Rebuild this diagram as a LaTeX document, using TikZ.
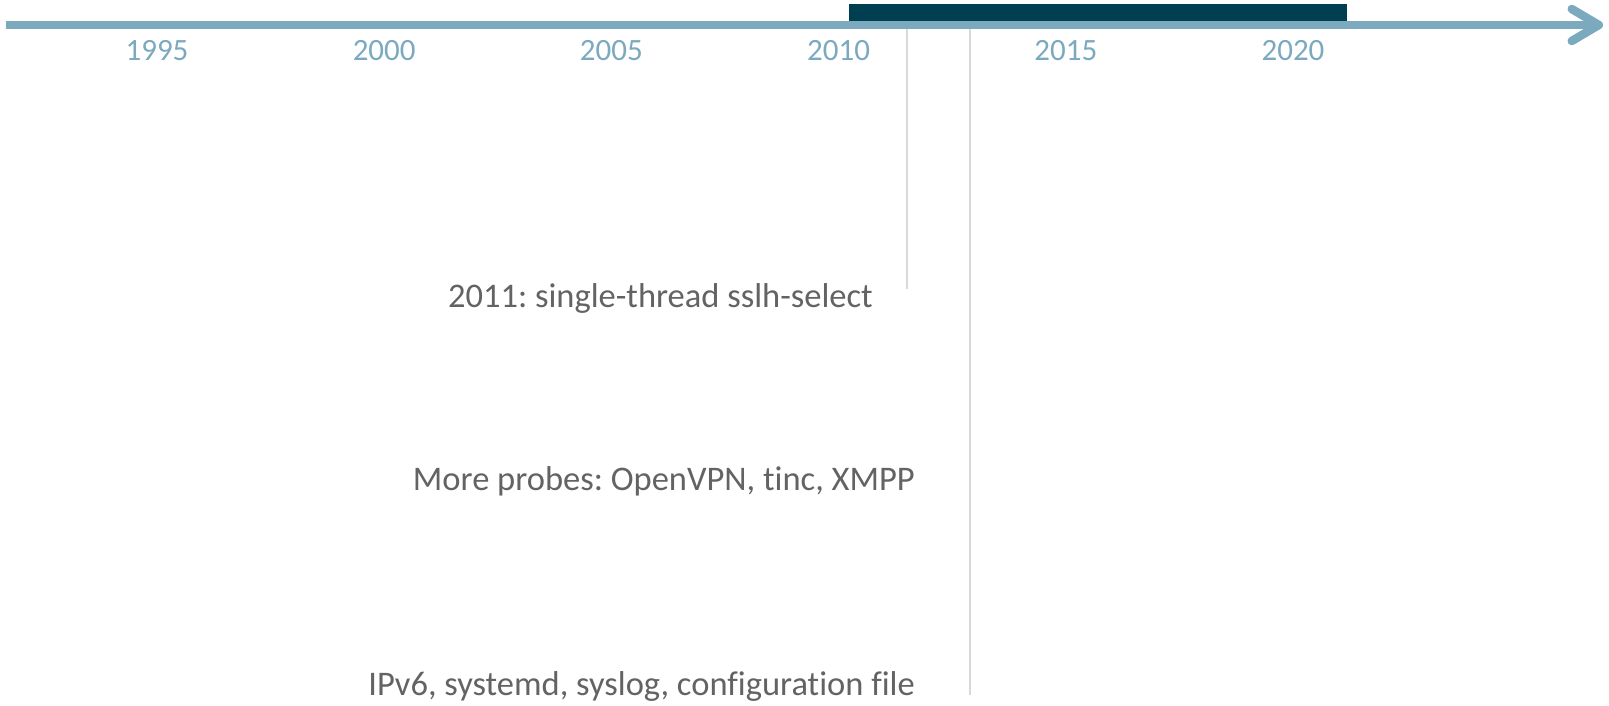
\documentclass[tikz,border=0pt]{standalone}
\usepackage{fontspec}
\setmainfont{Carlito}[Ligatures={NoCommon}]
\usetikzlibrary{arrows.meta}
\definecolor{axisblue}{HTML}{7BA9BE}
\definecolor{bardark}{HTML}{003F52}
\definecolor{textgray}{HTML}{636363}
\definecolor{linegray}{HTML}{D9D9D9}
\frenchspacing

\begin{document}
\begin{tikzpicture}[x=1pt, y=-1pt,
    year/.style={text=axisblue, font=\fontsize{31}{36}\selectfont, inner sep=0pt},
    event/.style={text=textgray, font=\fontsize{34.5}{40}\selectfont, inner sep=0pt, anchor=base east},
    marker/.style={draw=linegray, line width=2pt}]
    \useasboundingbox (0,0) rectangle (1609,706);
    \fill [bardark] (849,4) rectangle (1347,22);
    \coordinate (axisstart) at (6,25);
    \coordinate (axisend) at (1603,25);
    \draw [axisblue, line width=7.5pt, -{Straight Barb[length=27pt, width=32pt, line width=8.5pt, round]}] (axisstart) -- (axisend);
    \foreach \yr [count=\i from 0] in {1995,2000,...,2020}
        \node [year] (y\yr) at (157+227.2*\i, 51) {\yr};
    \coordinate (m1top) at (907,29);
    \coordinate (m1end) at (907,289);
    \coordinate (m2top) at (970,29);
    \coordinate (m2end) at (970,695);
    \draw [marker] (m1top) -- (m1end);
    \draw [marker] (m2top) -- (m2end);
    \node [event] (select) at (873,307) {2011: single-thread sslh-select};
    \node [event] (probes) at (915,490) {More probes: OpenVPN, tinc, XMPP};
    \node [event] (config) at (915,695) {IPv6, systemd, syslog, configuration file};
\end{tikzpicture}
\end{document}
